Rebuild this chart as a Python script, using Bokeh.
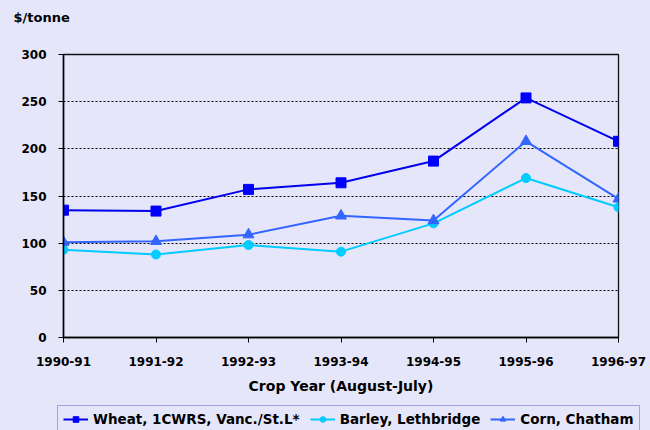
from bokeh.plotting import figure
from bokeh.layouts import column
from bokeh.models import (Range1d, FixedTicker, Legend, LegendItem,
                          Label, GlobalInlineStyleSheet)
from bokeh.embed import file_html
from bokeh.resources import INLINE

years = ["1990-91", "1991-92", "1992-93", "1993-94", "1994-95", "1995-96", "1996-97"]
wheat = [135, 134, 157, 164, 187, 254, 208]
barley = [93, 88, 98, 91, 121, 169, 138]
corn = [101, 102, 109, 129, 124, 208, 147]
y_ticks = [0, 50, 100, 150, 200, 250, 300]
series_names = ["Wheat, 1CWRS, Vanc./St.L*", "Barley, Lethbridge", "Corn, Chatham"]
unit_label = "$/tonne"
x_title = "Crop Year (August-July)"

BG = "#E6E6FA"
FONT = "DejaVu Sans"
xs = list(range(len(years)))


def strip(h):
    f = figure(width=650, height=h, output_backend="svg", toolbar_location=None,
               x_axis_type=None, y_axis_type=None, min_border=0,
               x_range=Range1d(-100, -99), y_range=Range1d(-100, -99))
    f.frame_align = False
    f.background_fill_color = BG
    f.border_fill_color = BG
    f.outline_line_color = None
    f.grid.grid_line_color = None
    return f


# top strip with the unit label
top = strip(40)
top.add_layout(Label(x=13, y=23, x_units="screen", y_units="screen", text=unit_label,
                     text_font=FONT, text_font_size="13px", text_font_style="bold",
                     text_color="black", text_baseline="middle", text_align="left"))

# main chart
p = figure(width=650, height=360, output_backend="svg", toolbar_location=None,
           x_range=Range1d(0, len(years) - 1), y_range=Range1d(0, 300),
           min_border_left=63, min_border_right=32, min_border_top=14,
           min_border_bottom=63)
p.frame_align = False
p.background_fill_color = BG
p.border_fill_color = BG
p.outline_line_color = "#111111"
p.outline_line_width = 1.3

p.xaxis.ticker = FixedTicker(ticks=xs)
p.xaxis.major_label_overrides = {i: y for i, y in enumerate(years)}
p.yaxis.ticker = FixedTicker(ticks=y_ticks)
for ax in (p.xaxis[0], p.yaxis[0]):
    ax.axis_line_color = "black"
    ax.axis_line_width = 1.5
    ax.major_tick_line_color = "black"
    ax.major_tick_out = 5
    ax.major_tick_in = 0
    ax.minor_tick_line_color = None
    ax.major_label_text_font = FONT
    ax.major_label_text_font_style = "bold"
    ax.major_label_text_font_size = "12px"
    ax.major_label_text_color = "black"
p.yaxis.major_label_standoff = 12
p.xaxis.major_label_standoff = 14
p.xaxis.axis_label = x_title
p.xaxis.axis_label_text_font = FONT
p.xaxis.axis_label_text_font_style = "bold"
p.xaxis.axis_label_text_font_size = "14px"
p.xaxis.axis_label_text_color = "black"
p.xaxis.axis_label_standoff = 9

p.xgrid.grid_line_color = None
p.ygrid.ticker = FixedTicker(ticks=y_ticks[1:-1])
p.ygrid.grid_line_color = "black"
p.ygrid.grid_line_dash = "2 2"
p.ygrid.grid_line_width = 1

styles = [
    dict(line="#0000EE", color="#0000FF", marker="square", size=10, data=wheat),
    dict(line="#00CCFF", color="#00CCFF", marker="circle", size=9, data=barley),
    dict(line="#3366FF", color="#3366FF", marker="triangle", size=11, data=corn),
]
for s in styles:
    p.line(xs, s["data"], line_color=s["line"], line_width=2)
    p.scatter(xs, s["data"], marker=s["marker"], size=s["size"],
              fill_color=s["color"], line_color=s["color"])

# legend strip
lg = strip(30)
items = []
for name, s in zip(series_names, styles):
    r1 = lg.line(xs, s["data"], line_color=s["line"], line_width=2)
    r2 = lg.scatter(xs, s["data"], marker=s["marker"], size=s["size"],
                    fill_color=s["color"], line_color=s["color"])
    items.append(LegendItem(label=name, renderers=[r1, r2]))

legend = Legend(items=items, orientation="horizontal", location=(57, -3),
    label_text_font=FONT, label_text_font_style="bold", label_text_font_size="13.5px",
    label_text_color="black", label_standoff=5, glyph_width=25, glyph_height=14,
    label_height=14, spacing=10, padding=5, margin=0,
    border_line_color="#5A5AD0", border_line_width=1.5,
    background_fill_color=BG, background_fill_alpha=1)
lg.add_layout(legend, "center")

layout = column(top, p, lg, spacing=0)
layout.stylesheets = [GlobalInlineStyleSheet(
    css="html, body { background-color: #E6E6FA; margin: 0; padding: 0; overflow: hidden; }")]

open("out.html", "w").write(file_html(layout, INLINE))
